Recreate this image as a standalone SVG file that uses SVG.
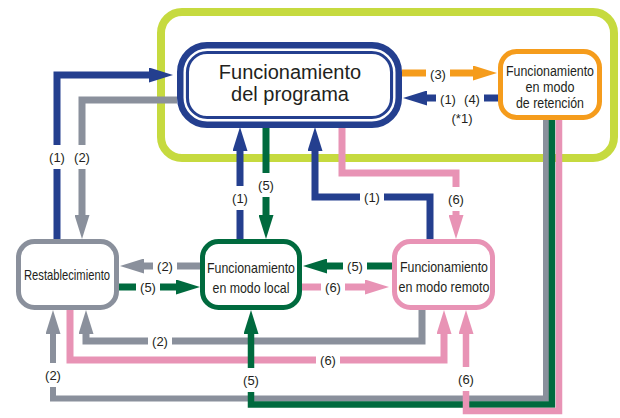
<svg xmlns="http://www.w3.org/2000/svg" width="620" height="418" viewBox="0 0 620 418">
<style>
.c{fill:none;stroke-width:7;stroke-linejoin:miter;stroke-linecap:butt}
.b{stroke:#243f8f}.g{stroke:#8a909c}.gr{stroke:#006a3e}.p{stroke:#e893b5}.o{stroke:#f59c1c}
.t{font-family:"Liberation Sans",Arial,sans-serif;fill:#231f20;text-anchor:middle}
.lbl{font-family:"Liberation Sans",Arial,sans-serif;font-size:13px;fill:#231f20;text-anchor:middle}
.bg{fill:#fff}
.node{fill:#fff;stroke-width:5}
</style>
<defs>
<marker id="ah-blue" markerUnits="userSpaceOnUse" markerWidth="24" markerHeight="15" refX="1" refY="7.5" orient="auto"><path d="M0,0 L24,7.5 L0,15 z" fill="#243f8f"/></marker>
<marker id="ah-grey" markerUnits="userSpaceOnUse" markerWidth="24" markerHeight="15" refX="1" refY="7.5" orient="auto"><path d="M0,0 L24,7.5 L0,15 z" fill="#8a909c"/></marker>
<marker id="ah-green" markerUnits="userSpaceOnUse" markerWidth="24" markerHeight="15" refX="1" refY="7.5" orient="auto"><path d="M0,0 L24,7.5 L0,15 z" fill="#006a3e"/></marker>
<marker id="ah-pink" markerUnits="userSpaceOnUse" markerWidth="24" markerHeight="15" refX="1" refY="7.5" orient="auto"><path d="M0,0 L24,7.5 L0,15 z" fill="#e893b5"/></marker>
<marker id="ah-orange" markerUnits="userSpaceOnUse" markerWidth="24" markerHeight="15" refX="1" refY="7.5" orient="auto"><path d="M0,0 L24,7.5 L0,15 z" fill="#f59c1c"/></marker>
</defs>

<rect id="frame" x="161" y="12" width="453" height="146" rx="21" fill="none" stroke="#c6da3f" stroke-width="8"/>

<g id="connectors">
<path class="c b" d="M57,239 V75 H150" marker-end="url(#ah-blue)"/>
<path class="c g" d="M177,100 H82 V216" marker-end="url(#ah-grey)"/>
<path class="c b" d="M240,239 V150" marker-end="url(#ah-blue)"/>
<path class="c gr" d="M266,127 V216" marker-end="url(#ah-green)"/>
<path class="c b" d="M430,239 V197 H315 V150" marker-end="url(#ah-blue)"/>
<path class="c p" d="M342,127 V173 H456 V216" marker-end="url(#ah-pink)"/>
<path class="c o" d="M402,73 H474" marker-end="url(#ah-orange)"/>
<path class="c b" d="M498,98 H426" marker-end="url(#ah-blue)"/>
<path class="c g" d="M200,266 H143" marker-end="url(#ah-grey)"/>
<path class="c gr" d="M119,287 H177" marker-end="url(#ah-green)"/>
<path class="c gr" d="M392,266 H326" marker-end="url(#ah-green)"/>
<path class="c p" d="M302,287 H366" marker-end="url(#ah-pink)"/>
<path class="c g" d="M422,310 V341 H86 V333" marker-end="url(#ah-grey)"/>
<path class="c g" style="stroke-width:6" d="M546,120 V398.5 H53 V333" marker-end="url(#ah-grey)"/>
<path class="c p" d="M70,310 V360 H444 V333" marker-end="url(#ah-pink)"/>
<path class="c gr" style="stroke-width:6.5" d="M552,120 V404.5 H251 V333" marker-end="url(#ah-green)"/>
<path class="c p" style="stroke-width:6.5" d="M559,120 V411 H466 V333" marker-end="url(#ah-pink)"/>

<g id="labels">
<rect class="bg" x="47" y="145" width="20" height="24"/><text class="lbl" x="57" y="161.5">(1)</text>
<rect class="bg" x="72" y="145" width="20" height="24"/><text class="lbl" x="82" y="161.5">(2)</text>
<rect class="bg" x="230" y="186" width="20" height="24"/><text class="lbl" x="240" y="202.5">(1)</text>
<rect class="bg" x="256" y="173" width="20" height="24"/><text class="lbl" x="266" y="189.5">(5)</text>
<rect class="bg" x="360" y="189" width="24" height="16"/><text class="lbl" x="372" y="201.5">(1)</text>
<rect class="bg" x="446" y="187" width="20" height="24"/><text class="lbl" x="456" y="203.5">(6)</text>
<rect class="bg" x="426" y="66" width="24" height="16"/><text class="lbl" x="438" y="78.5">(3)</text>
<rect class="bg" x="436" y="90" width="48" height="16"/><text class="lbl" x="448" y="103.5">(1)</text><text class="lbl" x="472" y="103.5">(4)</text>
<text class="lbl" x="462" y="122.5">(*1)</text>
<rect class="bg" x="153" y="258" width="24" height="16"/><text class="lbl" x="165" y="270.5">(2)</text>
<rect class="bg" x="136" y="279" width="24" height="16"/><text class="lbl" x="148" y="291.5">(5)</text>
<rect class="bg" x="343" y="258" width="24" height="16"/><text class="lbl" x="355" y="270.5">(5)</text>
<rect class="bg" x="321" y="279" width="24" height="16"/><text class="lbl" x="333" y="291.5">(6)</text>
<rect class="bg" x="148" y="333" width="24" height="16"/><text class="lbl" x="160" y="345.5">(2)</text>
<rect class="bg" x="316" y="352" width="24" height="16"/><text class="lbl" x="328" y="364.5">(6)</text>
<rect class="bg" x="43" y="363" width="20" height="24"/><text class="lbl" x="53" y="379.5">(2)</text>
<rect class="bg" x="241" y="368" width="20" height="24"/><text class="lbl" x="251" y="384.5">(5)</text>
<rect class="bg" x="456" y="367" width="20" height="24"/><text class="lbl" x="466" y="383.5">(6)</text>
</g>
</g>

<g id="programa">
<rect x="183" y="48" width="213" height="74" rx="24" fill="#fff" stroke="#243f8f" stroke-width="12"/>
<rect x="184.7" y="49.7" width="209.6" height="70.6" rx="22.5" fill="none" stroke="#fff" stroke-width="2.4"/>
<text class="t" x="290" y="79" font-size="20">Funcionamiento</text>
<text class="t" x="290" y="101" font-size="20">del programa</text>
</g>

<g id="retencion">
<rect class="node" x="500.5" y="51.5" width="99" height="66" rx="16" stroke="#f59c1c"/>
<text class="t" x="550" y="76" font-size="14" textLength="88" lengthAdjust="spacingAndGlyphs">Funcionamiento</text>
<text class="t" x="550" y="92" font-size="14" textLength="49" lengthAdjust="spacingAndGlyphs">en modo</text>
<text class="t" x="550" y="108" font-size="14" textLength="68" lengthAdjust="spacingAndGlyphs">de retención</text>
</g>

<g id="restablecimiento">
<rect class="node" x="18.5" y="241.5" width="98" height="66" rx="16" stroke="#8a909c"/>
<text class="t" x="67" y="280" font-size="15" textLength="86" lengthAdjust="spacingAndGlyphs">Restablecimiento</text>
</g>

<g id="local">
<rect class="node" x="202.5" y="241.5" width="97" height="66" rx="16" stroke="#006a3e"/>
<text class="t" x="251" y="273" font-size="15" textLength="88" lengthAdjust="spacingAndGlyphs">Funcionamiento</text>
<text class="t" x="251" y="292.5" font-size="15" textLength="77" lengthAdjust="spacingAndGlyphs">en modo local</text>
</g>

<g id="remoto">
<rect class="node" x="394.5" y="241.5" width="98" height="66" rx="16" stroke="#e893b5"/>
<text class="t" x="444" y="272" font-size="15" textLength="88" lengthAdjust="spacingAndGlyphs">Funcionamiento</text>
<text class="t" x="444" y="291.5" font-size="15" textLength="91" lengthAdjust="spacingAndGlyphs">en modo remoto</text>
</g>
</svg>
